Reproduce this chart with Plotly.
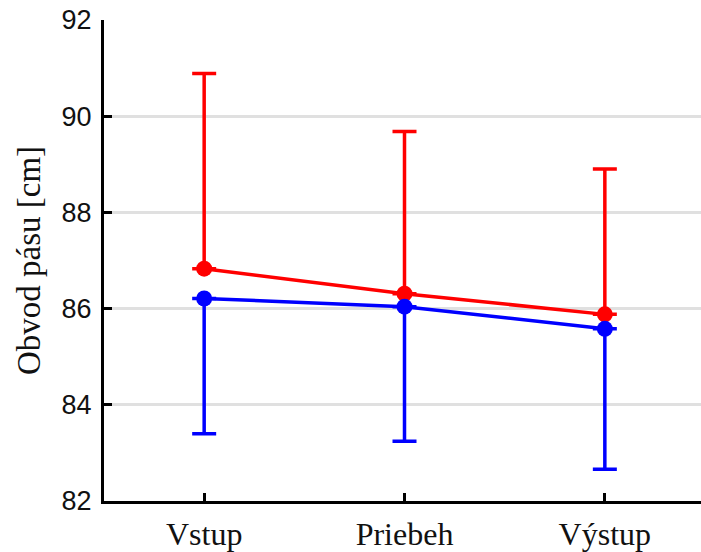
import plotly.graph_objects as go

categories = ["Vstup", "Priebeh", "Výstup"]
red_mean = [86.83, 86.31, 85.88]
red_upper_err = [4.06, 3.37, 3.02]
blue_mean = [86.21, 86.04, 85.58]
blue_lower_err = [2.81, 2.80, 2.92]
y_ticks = [82, 84, 86, 88, 90, 92]

x_idx = list(range(len(categories)))

fig = go.Figure()
fig.add_trace(go.Scatter(
    x=x_idx, y=red_mean, mode="lines+markers",
    line=dict(color="#ff0000", width=3.5),
    marker=dict(color="#ff0000", size=16),
    error_y=dict(type="data", symmetric=False, array=red_upper_err,
                 arrayminus=[0] * len(red_mean), color="#ff0000",
                 thickness=3.5, width=12),
    showlegend=False, cliponaxis=False,
))
fig.add_trace(go.Scatter(
    x=x_idx, y=blue_mean, mode="lines+markers",
    line=dict(color="#0000ff", width=3.5),
    marker=dict(color="#0000ff", size=16),
    error_y=dict(type="data", symmetric=False, array=[0] * len(blue_mean),
                 arrayminus=blue_lower_err, color="#0000ff",
                 thickness=3.5, width=12),
    showlegend=False, cliponaxis=False,
))

fig.update_layout(
    width=701, height=552,
    margin=dict(l=104, r=0, t=20, b=51, autoexpand=False),
    paper_bgcolor="white", plot_bgcolor="white",
    xaxis=dict(
        range=[-0.5, 2.48], tickmode="array", tickvals=x_idx, ticktext=categories,
        showgrid=False, zeroline=False, automargin=False,
        showline=True, linecolor="black", linewidth=3,
        ticks="inside", ticklen=8, tickwidth=3, tickcolor="black",
        tickfont=dict(family="Liberation Serif, Times New Roman, serif", size=32, color="#111"),
        ticklabelstandoff=3,
    ),
    yaxis=dict(
        range=[82, 92], tickmode="array", tickvals=y_ticks,
        showgrid=True, gridcolor="#e0e0e0", gridwidth=3,
        zeroline=False, automargin=False,
        showline=True, linecolor="black", linewidth=3,
        ticks="inside", ticklen=8, tickwidth=3, tickcolor="black",
        tickfont=dict(family="Liberation Sans, Arial, sans-serif", size=27, color="#111"),
        ticklabelstandoff=4,
        title=dict(text="Obvod pásu [cm]", standoff=12,
                   font=dict(family="Liberation Serif, Times New Roman, serif", size=33, color="#111")),
    ),
)

fig.write_html("out.html", config={"displayModeBar": False},
               post_script="document.body.style.margin='0';document.body.style.overflow='hidden';")
